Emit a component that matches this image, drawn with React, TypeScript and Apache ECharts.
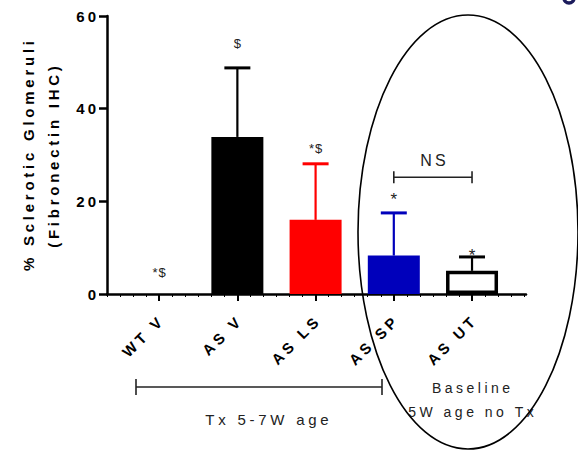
import React, { useEffect, useRef } from 'react';
import * as echarts from 'echarts';

const categories = ['WT V', 'AS V', 'AS LS', 'AS SP', 'AS UT'];
const means = [0, 33.9, 16.0, 8.3, 5.0];
const errors = [0, 14.9, 12.1, 9.2, 3.0];
const annotations = ['*$', '$', '*$', '*', '*'];
const annotationY = [4.7, 54.0, 31.5, 20.4, 8.4];
const yTicks = [0, 20, 40, 60];
const nsPair = [3, 4];
const nsLevel = 25.2;
const nsLabelLevel = 28.9;

const barColors = ['#000000', '#000000', '#ff0000', '#0000bb', '#ffffff'];
const errColors = ['#000000', '#000000', '#ff0000', '#0000bb', '#000000'];

const FONT = '"Liberation Sans", Arial, sans-serif';
const THIN = '\u2009';
const spaced = (s: string, sp: string = THIN) =>
  s.split(' ').map((w) => w.split('').join(sp)).join(sp + ' ' + sp);

const X_MIN = -4 / 6;
const X_MAX = 4.69;
const minorTicks: number[] = [];
for (let k = -4; k <= 28; k++) minorTicks.push(k / 6);

export default function App() {
  const ref = useRef<HTMLDivElement>(null);
  useEffect(() => {
    if (!ref.current) return;
    const chart = echarts.init(ref.current, null, { renderer: 'svg' });
    const catIdx = categories.map((_, i) => i);
    const option: any = {
      animation: false,
      backgroundColor: '#ffffff',
      grid: { left: 107, right: 52, top: 16, bottom: 157, containLabel: false },
      xAxis: [
        {
          type: 'value',
          min: X_MIN,
          max: X_MAX,
          splitLine: { show: false },
          axisLine: { show: true, onZero: false, lineStyle: { color: '#000', width: 2.5 } },
          axisTick: { show: true, customValues: catIdx, length: 7, lineStyle: { color: '#000', width: 2 } },
          axisLabel: {
            show: true,
            customValues: catIdx,
            rotate: 45,
            margin: 26,
            color: '#000',
            fontWeight: 'bold',
            fontSize: 15,
            fontFamily: FONT,
            formatter: (v: number) => spaced(categories[Math.round(v)] || '', '\u2005'),
          },
        },
        {
          type: 'value',
          min: X_MIN,
          max: X_MAX,
          position: 'bottom',
          splitLine: { show: false },
          axisLine: { show: false, onZero: false },
          axisTick: { show: true, customValues: minorTicks, length: 3, lineStyle: { color: '#000', width: 1 } },
          axisLabel: { show: false },
        },
      ],
      yAxis: {
        type: 'value',
        min: 0,
        max: 60,
        interval: 20,
        splitLine: { show: false },
        axisLine: { show: true, onZero: false, lineStyle: { color: '#000', width: 2.5 } },
        axisTick: { show: true, length: 8, lineStyle: { color: '#000', width: 2.5 } },
        axisLabel: {
          margin: 11,
          color: '#000',
          fontWeight: 'bold',
          fontSize: 15,
          fontFamily: FONT,
          customValues: yTicks,
          formatter: (v: number) => spaced(String(v)),
        },
      },
      series: [
        {
          type: 'bar',
          xAxisIndex: 0,
          barWidth: 52,
          z: 2,
          data: means.map((m, i) => ({
            value: [i, m],
            itemStyle:
              i === 4
                ? { color: '#ffffff', borderColor: '#000', borderWidth: 3.5 }
                : { color: barColors[i] },
          })),
        },
        {
          type: 'custom',
          xAxisIndex: 0,
          z: 3,
          data: means.map((m, i) => [i, m, errors[i]]),
          renderItem: (params: any, api: any) => {
            const x = api.value(0);
            const m = api.value(1);
            const e = api.value(2);
            if (!e) return { type: 'group', children: [] };
            const p0 = api.coord([x, m]);
            const p1 = api.coord([x, m + e]);
            const c = errColors[params.dataIndex];
            return {
              type: 'group',
              children: [
                { type: 'line', shape: { x1: p0[0], y1: p0[1], x2: p1[0], y2: p1[1] }, style: { stroke: c, lineWidth: 2.2 } },
                { type: 'line', shape: { x1: p1[0] - 13, y1: p1[1], x2: p1[0] + 13, y2: p1[1] }, style: { stroke: c, lineWidth: 3 } },
              ],
            };
          },
        },
        {
          type: 'custom',
          xAxisIndex: 0,
          z: 4,
          data: annotationY.map((y, i) => [i, y]),
          renderItem: (params: any, api: any) => {
            const p = api.coord([api.value(0), api.value(1)]);
            const txt = annotations[params.dataIndex];
            const lone = txt === '*';
            return {
              type: 'text',
              style: {
                text: spaced(txt, '\u200A'),
                x: p[0],
                y: p[1],
                align: 'center',
                verticalAlign: 'middle',
                fill: '#222',
                font: (lone ? '17px ' : '13px ') + FONT,
              },
            };
          },
        },
        {
          type: 'custom',
          xAxisIndex: 0,
          z: 4,
          data: [[nsPair[0], nsPair[1], nsLevel, nsLabelLevel]],
          renderItem: (params: any, api: any) => {
            const a = api.coord([api.value(0), api.value(2)]);
            const b = api.coord([api.value(1), api.value(2)]);
            const t = api.coord([(api.value(0) + api.value(1)) / 2, api.value(3)]);
            const st = { stroke: '#222', lineWidth: 1.6 };
            return {
              type: 'group',
              children: [
                { type: 'line', shape: { x1: a[0], y1: a[1], x2: b[0], y2: b[1] }, style: st },
                { type: 'line', shape: { x1: a[0], y1: a[1] - 6, x2: a[0], y2: a[1] + 6 }, style: st },
                { type: 'line', shape: { x1: b[0], y1: b[1] - 6, x2: b[0], y2: b[1] + 6 }, style: st },
                {
                  type: 'text',
                  style: { text: spaced('NS'), x: t[0], y: t[1], align: 'center', verticalAlign: 'middle', fill: '#222', font: '16px ' + FONT },
                },
              ],
            };
          },
        },
      ],
      graphic: [
        {
          type: 'text',
          x: 28,
          y: 156,
          rotation: Math.PI / 2,
          style: { text: spaced('% Sclerotic Glomeruli', '\u2005'), align: 'center', verticalAlign: 'middle', fill: '#000', font: 'bold 15px ' + FONT },
        },
        {
          type: 'text',
          x: 53,
          y: 157,
          rotation: Math.PI / 2,
          style: { text: spaced('(Fibronectin IHC)', '\u2005'), align: 'center', verticalAlign: 'middle', fill: '#000', font: 'bold 15px ' + FONT },
        },
        {
          type: 'ellipse',
          shape: { cx: 468, cy: 232, rx: 110, ry: 217 },
          style: { fill: 'none', stroke: '#000', lineWidth: 1.6 },
          z: 10,
        },
        {
          type: 'group',
          children: [
            { type: 'line', shape: { x1: 136, y1: 387, x2: 382, y2: 387 }, style: { stroke: '#222', lineWidth: 1.6 } },
            { type: 'line', shape: { x1: 136, y1: 379, x2: 136, y2: 395 }, style: { stroke: '#222', lineWidth: 1.6 } },
            { type: 'line', shape: { x1: 382, y1: 379, x2: 382, y2: 395 }, style: { stroke: '#222', lineWidth: 1.6 } },
          ],
        },
        {
          type: 'text',
          x: 267,
          y: 419,
          style: { text: spaced('Tx 5-7W age', '\u2005'), align: 'center', verticalAlign: 'middle', fill: '#222', font: '15px ' + FONT },
        },
        {
          type: 'text',
          x: 471,
          y: 388,
          style: { text: spaced('Baseline', '\u2005'), align: 'center', verticalAlign: 'middle', fill: '#222', font: '14px ' + FONT },
        },
        {
          type: 'text',
          x: 471,
          y: 412,
          style: { text: spaced('5W age no Tx', '\u2005'), align: 'center', verticalAlign: 'middle', fill: '#222', font: '14px ' + FONT },
        },
        {
          type: 'arc',
          shape: { cx: 569, cy: -2, r: 5, startAngle: 0, endAngle: Math.PI },
          style: { stroke: '#1c1c5c', lineWidth: 3.5, fill: 'none' },
        },
      ],
    };
    chart.setOption(option);
    return () => chart.dispose();
  }, []);
  return <div ref={ref} style={{ width: 578, height: 451, position: 'absolute', left: 0, top: 0 }} />;
}
